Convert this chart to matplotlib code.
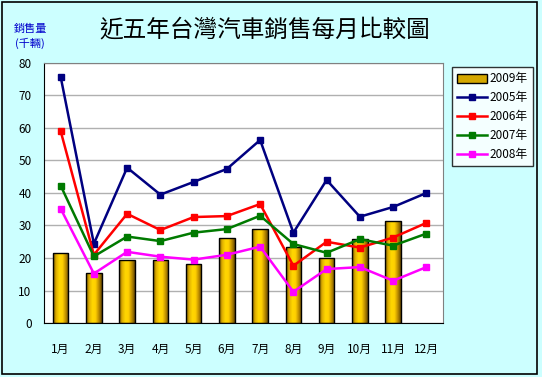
import matplotlib
matplotlib.use("Agg")
import matplotlib.pyplot as plt
import numpy as np
from matplotlib.patches import Rectangle, Patch
from matplotlib.colors import LinearSegmentedColormap

plt.rcParams['font.family'] = ['Noto Sans CJK TC', 'DejaVu Sans']

months = ['1月', '2月', '3月', '4月', '5月', '6月', '7月', '8月', '9月', '10月', '11月', '12月']
sales_2009 = [21.4, 15.3, 19.3, 19.3, 18.1, 26.1, 28.8, 23.3, 19.9, 25.8, 31.3]
sales_2005 = [75.8, 24.4, 47.8, 39.5, 43.4, 47.4, 56.3, 27.8, 44.0, 32.7, 35.7, 40.0]
sales_2006 = [59.1, 21.0, 33.6, 28.6, 32.6, 32.9, 36.6, 17.6, 25.0, 23.2, 26.3, 30.8]
sales_2007 = [42.3, 20.5, 26.6, 25.2, 27.8, 28.9, 33.0, 24.3, 21.6, 25.8, 23.8, 27.5]
sales_2008 = [35.2, 15.2, 21.9, 20.4, 19.5, 21.0, 23.5, 9.6, 16.6, 17.2, 13.0, 17.2]
yticks = [0, 10, 20, 30, 40, 50, 60, 70, 80]

W, H = 542, 377
fig = plt.figure(figsize=(W/100, H/100), dpi=100, facecolor='#CCFFFF')
fig.patches.append(Rectangle((1.5/W, 3.5/H), (W-7)/W, (H-5)/H, transform=fig.transFigure,
                             fill=False, edgecolor='black', linewidth=1.2))

ax = fig.add_axes([44/W, 1-323/H, 399/W, 260/H])
ax.set_facecolor('white')
x = np.arange(len(months))
ax.set_yticks(yticks)
ax.yaxis.grid(True, color='#B0B0B0', linewidth=1)
ax.set_axisbelow(True)
ax.tick_params(length=0, labelsize=8.5, pad=9)
ax.set_xticks(x)
ax.set_xticklabels(months)
ax.tick_params(axis='x', pad=14)
for s in ['top', 'right']:
    ax.spines[s].set_color('#808080')
for s in ['left', 'bottom']:
    ax.spines[s].set_color('black')

# gradient bars
cmap = LinearSegmentedColormap.from_list('gold', ['#7A5C00', '#E0B000', '#FFD700', '#FFD000', '#C09000', '#6A4A00'])
grad = np.linspace(0, 1, 64).reshape(1, -1)
bw = 0.46
bars = ax.bar(x[:len(sales_2009)], sales_2009, width=bw, color='none', edgecolor='black',
              linewidth=1, zorder=3)
for b in bars:
    im = ax.imshow(grad, cmap=cmap, aspect='auto', zorder=2.5,
                   extent=[b.get_x(), b.get_x()+b.get_width(), 0, b.get_height()])
    im.set_clip_path(b)
ax.set_xlim(-0.5, 11.5)
ax.set_ylim(0, 80)

handles = [Patch(facecolor='#D4A800', edgecolor='black')]
labels = ['2009年']
series = [(sales_2005, '#000080', '2005年'), (sales_2006, '#FF0000', '2006年'),
          (sales_2007, '#007A00', '2007年'), (sales_2008, '#FF00FF', '2008年')]
for vals, c, lab in series:
    ln, = ax.plot(x, vals, color=c, linewidth=1.8, marker='s', markersize=5, zorder=4)
    handles.append(ln)
    labels.append(lab)

leg = fig.legend(handles, labels, loc='upper left', bbox_to_anchor=(452/W, 1-67/H),
                 frameon=True, fancybox=False, edgecolor='black', fontsize=8.5,
                 handlelength=2.5, handleheight=0.8, borderpad=0.45, labelspacing=0.5,
                 handletextpad=0.25, borderaxespad=0)
leg.get_frame().set_linewidth(1)

fig.text(265/W, 1-30/H, '近五年台灣汽車銷售每月比較圖', ha='center', va='center', fontsize=17)
fig.text(30/W, 1-36/H, '銷售量\n(千輛)', ha='center', va='center', fontsize=8, color='#0000CC',
         linespacing=1.4)

fig.savefig('out.png', dpi=100, facecolor=fig.get_facecolor())
